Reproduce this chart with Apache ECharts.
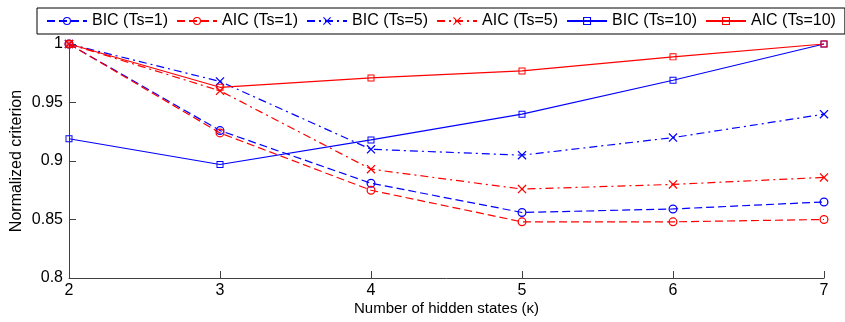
<!DOCTYPE html>
<html>
<head>
<meta charset="utf-8">
<script src="https://cdn.jsdelivr.net/npm/echarts@6/dist/echarts.min.js"></script>
<style>
html,body{margin:0;padding:0;background:#fff;}
#chart{width:845px;height:322px;}
</style>
</head>
<body>
<div id="chart"></div>
<script>
// ---- data ----
const states = [2, 3, 4, 5, 6, 7];
const bicTs1  = [1.000, 0.926, 0.881, 0.856, 0.859, 0.865];
const aicTs1  = [1.000, 0.924, 0.875, 0.848, 0.848, 0.850];
const bicTs5  = [1.000, 0.968, 0.910, 0.905, 0.920, 0.940];
const aicTs5  = [1.000, 0.960, 0.893, 0.876, 0.880, 0.886];
const bicTs10 = [0.919, 0.897, 0.918, 0.940, 0.969, 1.000];
const aicTs10 = [1.000, 0.963, 0.971, 0.977, 0.989, 1.000];
const seriesNames = ['BIC (Ts=1)', 'AIC (Ts=1)', 'BIC (Ts=5)', 'AIC (Ts=5)', 'BIC (Ts=10)', 'AIC (Ts=10)'];
const yTicks = [0.8, 0.85, 0.9, 0.95, 1];

// ---- styling ----
const BLUE = '#0000ff', RED = '#ff0000';
const RING = 'path://M0,5 A5,5 0 1,1 10,5 A5,5 0 1,1 0,5 Z M1.4,5 A3.6,3.6 0 1,0 8.6,5 A3.6,3.6 0 1,0 1.4,5 Z';
const SQUARE = 'path://M0,0 L10,0 L10,10 L0,10 Z M1.4,1.4 L1.4,8.6 L8.6,8.6 L8.6,1.4 Z';
const CROSS = 'path://M0,1 L1,0 L10,9 L9,10 Z M9,0 L10,1 L1,10 L0,9 Z';
const DASH = [8, 4];
const DASHDOT = [8, 4, 2, 4];

function mk(name, vals, color, symbol, size, dash) {
  return {
    name: name,
    type: 'line',
    data: states.map((x, i) => [x, vals[i]]),
    symbol: symbol,
    symbolSize: size,
    clip: false,
    itemStyle: { color: color },
    lineStyle: { color: color, width: 1.2, type: dash },
    emphasis: { disabled: true }
  };
}

const series = [
  mk(seriesNames[0], bicTs1, BLUE, RING, 9, DASH),
  mk(seriesNames[1], aicTs1, RED, RING, 9, DASH),
  mk(seriesNames[2], bicTs5, BLUE, CROSS, 9, DASHDOT),
  mk(seriesNames[3], aicTs5, RED, CROSS, 9, DASHDOT),
  mk(seriesNames[4], bicTs10, BLUE, SQUARE, 7, 'solid'),
  mk(seriesNames[5], aicTs10, RED, SQUARE, 7, 'solid')
];

const FONT = '"Liberation Sans", Arial, sans-serif';
const chart = echarts.init(document.getElementById('chart'), null, { renderer: 'canvas' });
chart.setOption({
  animation: false,
  backgroundColor: '#fff',
  textStyle: { fontFamily: FONT, color: '#000' },
  legend: {
    left: 37,
    top: 8,
    width: 840,
    padding: [5, 9, 5, 9],
    itemWidth: 40,
    itemHeight: 10,
    itemGap: 8,
    borderColor: '#000',
    borderWidth: 1,
    textStyle: { fontSize: 16, color: '#000', fontFamily: FONT },
    data: seriesNames
  },
  grid: { left: 69, right: 21, top: 44, bottom: 44, containLabel: false, outerBoundsMode: 'none' },
  xAxis: {
    type: 'value',
    min: 2, max: 7, interval: 1,
    name: 'Number of hidden states (\u03ba)',
    nameLocation: 'middle',
    nameGap: 23,
    nameMoveOverlap: false,
    nameTextStyle: { fontSize: 15, color: '#000', fontFamily: FONT },
    axisLine: { show: true, onZero: false, lineStyle: { color: '#404040', width: 1 } },
    axisTick: { show: true, inside: true, length: 7, lineStyle: { color: '#404040' } },
    axisLabel: { fontSize: 16, color: '#000', margin: 5, fontFamily: FONT },
    splitLine: { show: false }
  },
  yAxis: {
    type: 'value',
    min: yTicks[0], max: yTicks[yTicks.length - 1], interval: 0.05,
    name: 'Normalized criterion',
    nameLocation: 'middle',
    nameGap: 44,
    nameMoveOverlap: false,
    nameTextStyle: { fontSize: 16, color: '#000', fontFamily: FONT },
    axisLine: { show: true, lineStyle: { color: '#404040', width: 1 } },
    axisTick: { show: true, inside: true, length: 7, lineStyle: { color: '#404040' } },
    axisLabel: { fontSize: 16, color: '#000', margin: 6, fontFamily: FONT },
    splitLine: { show: false }
  },
  series: series
});
</script>
</body>
</html>
